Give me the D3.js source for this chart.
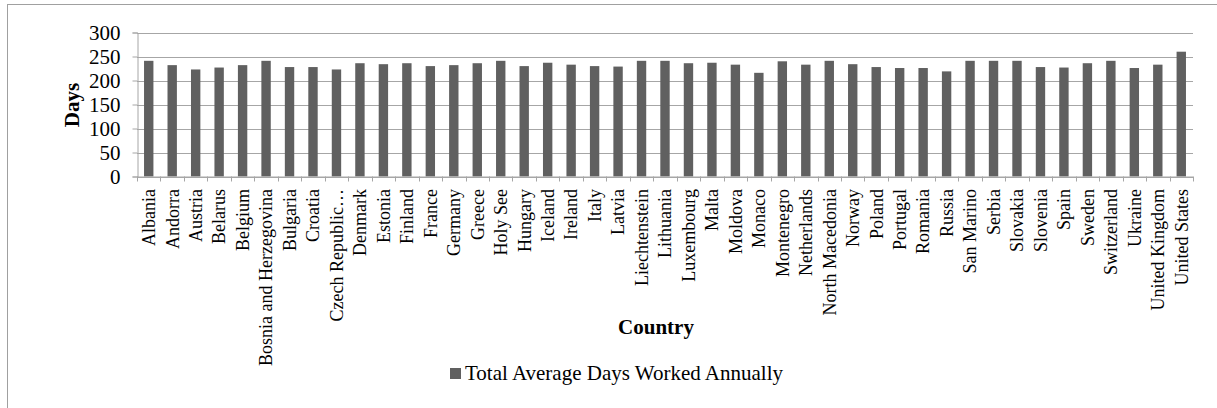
<!DOCTYPE html>
<html>
<head>
<meta charset="utf-8">
<script src="https://cdn.jsdelivr.net/npm/d3@7"></script>
<style>
  body { margin: 0; background: #fff; }
  text { font-family: "Liberation Serif", "Times New Roman", serif; fill: #000; }
</style>
</head>
<body>
<div class="chart"></div>
<script>
var svgWidth = 1217;
var svgHeight = 408;

// data
var countries = ["Albania", "Andorra", "Austria", "Belarus", "Belgium", "Bosnia and Herzegovina",
  "Bulgaria", "Croatia", "Czech Republic…", "Denmark", "Estonia", "Finland", "France", "Germany",
  "Greece", "Holy See", "Hungary", "Iceland", "Ireland", "Italy", "Latvia", "Liechtenstein",
  "Lithuania", "Luxembourg", "Malta", "Moldova", "Monaco", "Montenegro", "Netherlands",
  "North Macedonia", "Norway", "Poland", "Portugal", "Romania", "Russia", "San Marino", "Serbia",
  "Slovakia", "Slovenia", "Spain", "Sweden", "Switzerland", "Ukraine", "United Kingdom",
  "United States"];
var daysWorked = [241, 232, 223, 227, 232, 241, 228, 228, 223, 236, 234, 236, 230, 232, 236, 241,
  230, 237, 233, 230, 229, 241, 241, 236, 237, 233, 216, 240, 233, 241, 234, 228, 226, 226, 219,
  241, 241, 241, 228, 227, 236, 241, 226, 233, 260];
var yTicks = [0, 50, 100, 150, 200, 250, 300];
var seriesName = "Total Average Days Worked Annually";

var plot = { left: 137, right: 1193, top: 32.5, bottom: 176.5 };
var barColor = "#606060";
var gridColor = "#a6a6a6";

var svg = d3.select(".chart")
  .append("svg")
  .attr("width", svgWidth)
  .attr("height", svgHeight);

// outer chart frame (right/bottom edges fall off the picture)
svg.append("rect")
  .attr("x", 7.5)
  .attr("y", 4.5)
  .attr("width", 1220)
  .attr("height", 420)
  .attr("fill", "none")
  .attr("stroke", "#a0a0a0");

var xScale = d3.scaleBand()
  .domain(countries)
  .range([plot.left, plot.right])
  .paddingInner(0.6)
  .paddingOuter(0.3);

var yScale = d3.scaleLinear()
  .domain([0, 300])
  .range([plot.bottom, plot.top]);

// gridlines
svg.append("g")
  .selectAll("line")
  .data(yTicks)
  .enter()
  .append("line")
  .attr("x1", plot.left)
  .attr("x2", plot.right)
  .attr("y1", d => Math.round(yScale(d)) + 0.5)
  .attr("y2", d => Math.round(yScale(d)) + 0.5)
  .attr("stroke", gridColor);

// y axis
var leftAxis = d3.axisLeft(yScale)
  .tickValues(yTicks)
  .tickSize(5)
  .tickPadding(12);

var yAxis = svg.append("g")
  .attr("transform", `translate(${plot.left + 0.5}, 0)`)
  .call(leftAxis)
  .attr("font-family", null)
  .attr("font-size", null);
yAxis.select(".domain").attr("stroke", gridColor);
yAxis.selectAll(".tick line").attr("stroke", gridColor);
yAxis.selectAll(".tick text")
  .style("font-size", "21px");

// bars
svg.append("g")
  .selectAll("rect")
  .data(daysWorked)
  .enter()
  .append("rect")
  .attr("x", (d, i) => xScale(countries[i]))
  .attr("width", xScale.bandwidth())
  .attr("y", d => yScale(d))
  .attr("height", d => plot.bottom - yScale(d))
  .attr("fill", barColor);

// x axis line + ticks at category boundaries
var step = xScale.step();
var boundaries = d3.range(countries.length + 1);
svg.append("line")
  .attr("x1", plot.left)
  .attr("x2", plot.right)
  .attr("y1", plot.bottom + 0.5)
  .attr("y2", plot.bottom + 0.5)
  .attr("stroke", gridColor);
svg.append("g")
  .selectAll("line")
  .data(boundaries)
  .enter()
  .append("line")
  .attr("x1", d => Math.round(plot.left + d * step) + 0.5)
  .attr("x2", d => Math.round(plot.left + d * step) + 0.5)
  .attr("y1", plot.bottom)
  .attr("y2", plot.bottom + 5)
  .attr("stroke", gridColor);

// rotated category labels
svg.append("g")
  .selectAll("text")
  .data(countries)
  .enter()
  .append("text")
  .attr("transform", d => `translate(${xScale(d) + xScale.bandwidth() / 2}, 189) rotate(-90)`)
  .attr("dy", "0.35em")
  .attr("text-anchor", "end")
  .style("font-size", "18px")
  .text(d => d);

// axis titles
svg.append("text")
  .attr("transform", "translate(79, 105) rotate(-90)")
  .attr("text-anchor", "middle")
  .style("font-size", "21px")
  .style("font-weight", "bold")
  .text("Days");

svg.append("text")
  .attr("x", 656)
  .attr("y", 334)
  .attr("text-anchor", "middle")
  .style("font-size", "21px")
  .style("font-weight", "bold")
  .text("Country");

// legend
var legend = svg.append("g");
legend.append("rect")
  .attr("x", 450)
  .attr("y", 368)
  .attr("width", 11)
  .attr("height", 11)
  .attr("fill", barColor);
legend.append("text")
  .attr("x", 465)
  .attr("y", 380)
  .style("font-size", "21px")
  .text(seriesName);
</script>
</body>
</html>
